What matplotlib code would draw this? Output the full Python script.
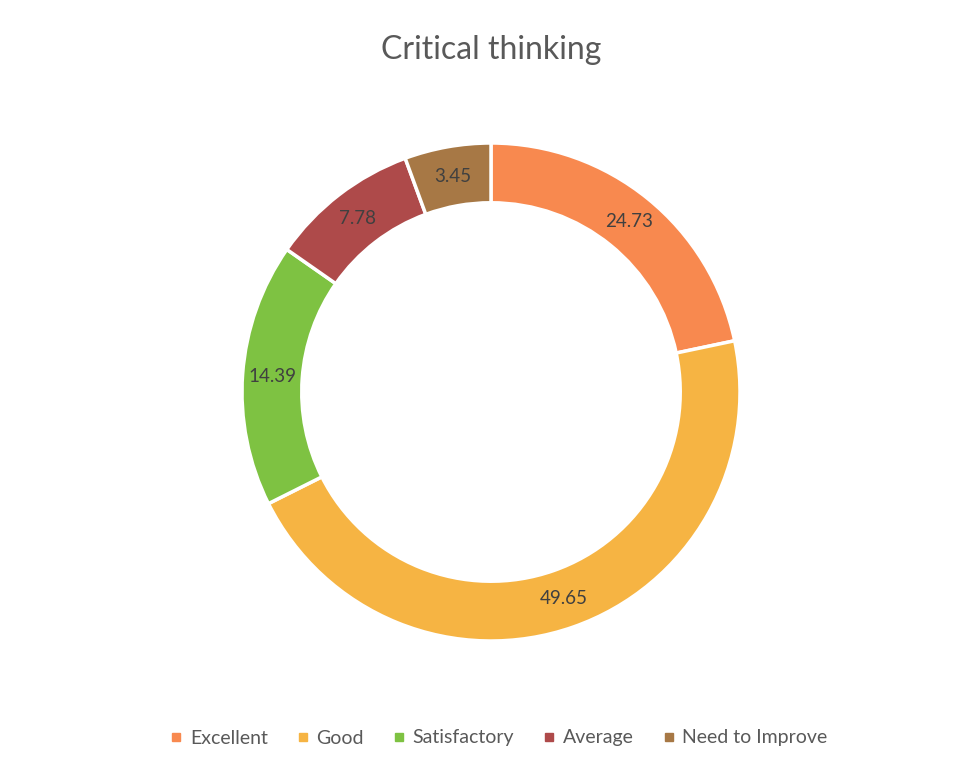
import numpy as np
import matplotlib.pyplot as plt

categories = ["Excellent", "Good", "Satisfactory", "Average", "Need to Improve"]
# values printed on the ring
values = [24.73, 49.65, 14.39, 7.78, 3.45]
# ring shares as drawn in the picture (they do not follow the printed values)
shares = [21.7, 45.9, 17.1, 9.7, 5.6]
colors = ["#F8894F", "#F6B443", "#7EC242", "#AE4A4A", "#A77845"]

plt.rcParams['font.family'] = ['Lato', 'DejaVu Sans']

W, H = 972, 771
fig = plt.figure(figsize=(W / 100, H / 100), dpi=100)
fig.patch.set_facecolor('white')

cx, cy, r = 491, 392, 249
ax = fig.add_axes([(cx - r) / W, (H - cy - r) / H, 2 * r / W, 2 * r / H])

ring = 0.24
wedges, _ = ax.pie(shares, colors=colors, startangle=90, counterclock=False,
                   radius=1, wedgeprops=dict(width=ring, edgecolor='white', linewidth=2.5))
ax.set_xlim(-1, 1)
ax.set_ylim(-1, 1)
ax.set_aspect('equal')
ax.axis('off')

for w, v in zip(wedges, values):
    ang = np.deg2rad((w.theta1 + w.theta2) / 2)
    rr = 1 - ring / 2
    ax.text(rr * np.cos(ang), rr * np.sin(ang), f"{v:.2f}", ha='center', va='center',
            fontsize=13.5, color='#404040')

fig.text(cx / W, 1 - 50 / H, "Critical thinking", ha='center', va='center',
         fontsize=23, color='#595959')

handles = [plt.Line2D([], [], marker='s', linestyle='none', markersize=6,
                      markerfacecolor=c, markeredgecolor=c) for c in colors]
fig.legend(handles, categories, loc='center', bbox_to_anchor=(498 / W, 1 - 738 / H),
           ncol=5, frameon=False, fontsize=14, labelcolor='#595959',
           handletextpad=0.3, columnspacing=1.4, handlelength=0.8)

fig.savefig("out.png", dpi=100, facecolor='white')
